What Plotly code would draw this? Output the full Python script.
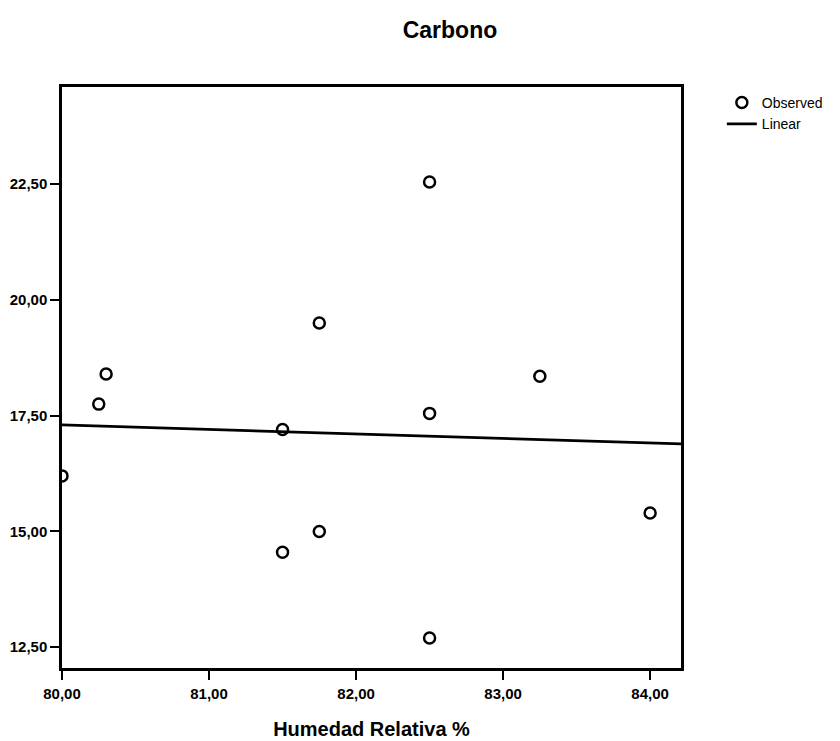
import plotly.graph_objects as go

# Observed data (Humedad Relativa %, Carbono)
humedad = [80.0, 80.25, 80.3, 81.5, 81.5, 81.75, 81.75, 82.5, 82.5, 82.5, 83.25, 84.0]
carbono = [16.2, 17.75, 18.4, 17.2, 14.55, 19.5, 15.0, 22.55, 17.55, 12.7, 18.35, 15.4]

# Linear fit endpoints
linear_x = [80.0, 84.21]
linear_y = [17.3, 16.89]

x_tickvals = [80, 81, 82, 83, 84]
x_ticktext = ["80,00", "81,00", "82,00", "83,00", "84,00"]
y_tickvals = [12.5, 15.0, 17.5, 20.0, 22.5]
y_ticktext = ["12,50", "15,00", "17,50", "20,00", "22,50"]

# page body has an 8px margin; figure is sized/positioned to compensate
W, H, OFF = 832, 733, 8

fig = go.Figure()
fig.add_trace(go.Scatter(
    x=humedad, y=carbono, mode="markers", name="Observed",
    marker=dict(symbol="circle-open", size=11, color="black", line=dict(width=2.5, color="black")),
))
fig.add_trace(go.Scatter(
    x=linear_x, y=linear_y, mode="lines", name="Linear",
    line=dict(color="black", width=2.8),
))

axis_common = dict(
    showgrid=False, zeroline=False, showline=True, linecolor="black", linewidth=2.5,
    mirror=True, ticks="outside", ticklen=9, tickwidth=2, tickcolor="black",
    automargin=False,
    tickfont=dict(family="Liberation Sans", size=15, color="black", weight="bold"),
)

fig.update_layout(
    width=W, height=H,
    margin=dict(l=62 - OFF, r=159, t=87 - OFF, b=73),
    paper_bgcolor="white", plot_bgcolor="white",
    title=dict(text="Carbono", x=(450 - OFF) / W, xanchor="center", y=1 - (30 - OFF) / H, yanchor="middle",
               font=dict(family="Liberation Sans", size=23, color="black", weight="bold")),
    xaxis=dict(range=[80, 84.21], tickvals=x_tickvals, ticktext=x_ticktext, ticklabelstandoff=1,
               title=dict(text="Humedad Relativa %", standoff=22,
                          font=dict(family="Liberation Sans", size=20, color="black", weight="bold")),
               **axis_common),
    yaxis=dict(range=[12.05, 24.6], tickvals=y_tickvals, ticktext=y_ticktext, **axis_common),
    showlegend=True,
    legend=dict(x=1.066, y=1.0, xanchor="left", yanchor="top",
                font=dict(family="Liberation Sans", size=14, color="black"),
                bgcolor="rgba(0,0,0,0)", tracegroupgap=0, itemwidth=30),
)

fig.write_html("out.html")
